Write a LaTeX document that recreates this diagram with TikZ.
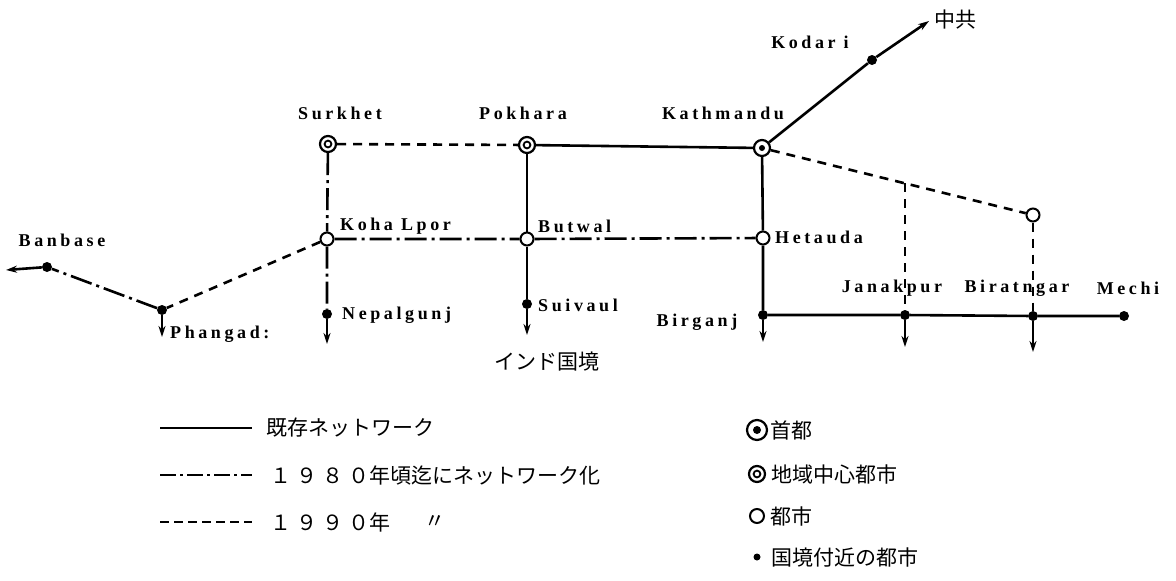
\documentclass[tikz,border=0pt]{standalone}
\usepackage{fontspec}
\setmainfont{Liberation Serif}
\newfontfamily\lab[LetterSpace=20]{Liberation Serif}
\newfontfamily\jp{Noto Sans CJK JP}
\usetikzlibrary{arrows.meta,calc,backgrounds}
\begin{document}
\begin{tikzpicture}[x=1pt,y=-1pt,
  exist/.style={line width=2.6pt},
  pl80/.style={line width=2.6pt,dash pattern=on 22pt off 5pt on 3pt off 5pt},
  pl90/.style={line width=2.6pt,dash pattern=on 9pt off 7pt},
  arr/.style={line width=2.6pt,-{Stealth[length=11pt,width=7pt]}},
  capital/.style={circle,draw,fill=white,line width=2.2pt,minimum size=16pt,inner sep=0pt,path picture={\fill[black] (path picture bounding box.center) circle (3pt);}},
  regional/.style={circle,draw,fill=white,line width=2.2pt,minimum size=16pt,inner sep=0pt,path picture={\draw[black,line width=1.8pt] (path picture bounding box.center) circle (3.4pt);}},
  city/.style={circle,draw,fill=white,line width=2pt,minimum size=13pt,inner sep=0pt},
  bcity/.style={circle,fill,minimum size=10pt,inner sep=0pt},
  lbl/.style={font=\lab\bfseries\fontsize{18}{20}\selectfont,inner sep=0pt},
  jlbl/.style={font=\jp\fontsize{21}{23}\selectfont,inner sep=0pt},
]
\useasboundingbox (0,0) rectangle (1176,581);
% places
\node[regional] (Sur) at (328,144) {};
\node[regional] (Pok) at (527,145) {};
\node[capital]  (Kat) at (762,148) {};
\node[bcity]    (Kod) at (872,60) {};
\coordinate (Chn) at (929,21);
\node[city] (KL)  at (327,239) {};
\node[city] (But) at (527,239) {};
\node[city] (Het) at (763,238) {};
\node[city] (E)   at (1033,215) {};
\node[bcity] (Ban) at (47,267) {};
\coordinate (BanW) at (6,270);
\node[bcity] (Pha) at (162,310) {};
\node[bcity] (Nep) at (327,314) {};
\node[bcity] (Sui) at (527,304) {};
\node[bcity] (Brg) at (763,315) {};
\node[bcity] (Jan) at (905,315) {};
\node[bcity] (Bir) at (1033,316) {};
\node[bcity] (Mec) at (1124,316) {};
\coordinate (Jtop) at (905,0);
\coordinate (J) at (intersection of Kat--E and Jan--Jtop);
\coordinate (PhaS) at (162,337);
\coordinate (NepS) at (327,344);
\coordinate (SuiS) at (527,335);
\coordinate (BrgS) at (763,342);
\coordinate (JanS) at (905,347);
\coordinate (BirS) at (1033,352);
% labels
\node[lbl] (tSur) at (340,113) {Surkhet};
\node[lbl] (tPok) at (523,113) {Pokhara};
\node[lbl] (tKat) at (723,113) {Kathmandu};
\node[lbl] (tKod) at (810,42) {Kodar i};
\node[jlbl] (tChn) at (955,20) {中共};
\node[lbl,anchor=west] (tKL) at (340,226) {Koha Lpor};
\node[lbl,anchor=west] (tBut) at (538,226) {Butwal};
\node[lbl,anchor=west] (tHet) at (775,237) {Hetauda};
\node[lbl] (tBan) at (62,240) {Banbase};
\node[lbl,anchor=west] (tPha) at (170,334) {Phangad:};
\node[lbl,anchor=west] (tNep) at (342,315) {Nepalgunj};
\node[lbl,anchor=west] (tSui) at (538,305) {Suivaul};
\node[lbl] (tBrg) at (697,322) {Birganj};
\node[lbl] (tJan) at (892,288) {Janakpur};
\node[lbl] (tBir) at (1017,288) {Biratngar};
\node[lbl] (tMec) at (1128,288) {Mechi};
\node[jlbl] (tInd) at (547,362) {インド国境};
% connectors
\begin{scope}[on background layer]
\draw[pl90] (Sur) -- (Pok);
\draw[exist] (Pok) -- (Kat);
\draw[pl90] (Kat) -- (J) -- (E);
\draw[pl90] (J) -- (Jan);
\draw[pl90] (E) -- (Bir);
\draw[pl90] (KL) -- (Pha);
\draw[exist] (Pok) -- (But) -- (Sui);
\draw[exist] (Kat) -- (Het) -- (Brg);
\draw[exist] (Brg) -- (Jan) -- (Bir) -- (Mec);
\draw[exist] (Kat) -- (Kod);
\draw[arr] (Kod) -- (Chn);
\draw[pl80] (Sur) -- (KL) -- (Nep);
\draw[pl80] (KL) -- (But) -- (Het);
\draw[pl80] (Pha) -- (Ban);
\draw[arr] (Ban) -- (BanW);
\draw[arr] (Pha) -- (PhaS);
\draw[arr] (Nep) -- (NepS);
\draw[arr] (Sui) -- (SuiS);
\draw[arr] (Brg) -- (BrgS);
\draw[arr] (Jan) -- (JanS);
\draw[arr] (Bir) -- (BirS);
\end{scope}
% legend
\coordinate (La1) at (160,428); \coordinate (Lb1) at (252,428);
\coordinate (La2) at (160,475); \coordinate (Lb2) at (252,475);
\coordinate (La3) at (160,522); \coordinate (Lb3) at (252,522);
\draw[exist] (La1) -- (Lb1);
\draw[line width=2.6pt,dash pattern=on 16pt off 4pt on 3pt off 4pt] (La2) -- (Lb2);
\draw[line width=2.6pt,dash pattern=on 9pt off 5pt] (La3) -- (Lb3);
\node[jlbl,anchor=west] (g1) at (266,428) {既存ネットワーク};
\node[jlbl,anchor=west] (g2) at (270,475) {１\hspace{5pt}９\hspace{5pt}８\hspace{5pt}０年頃迄にネットワーク化};
\node[jlbl,anchor=west] (g3) at (270,522) {１\hspace{5pt}９\hspace{5pt}９\hspace{5pt}０年};
\node[jlbl] (g3b) at (435,522) {〃};
\node[capital,minimum size=20pt,path picture={\fill[black] (path picture bounding box.center) circle (4pt);}] (s1) at (757,430) {};
\node[regional] (s2) at (757,474) {};
\node[city,minimum size=14pt] (s3) at (757,516) {};
\node[bcity,minimum size=7pt] (s4) at (757,557) {};
\node[jlbl,anchor=west] (h1) at (770,430) {首都};
\node[jlbl,anchor=west] (h2) at (771,474) {地域中心都市};
\node[jlbl,anchor=west] (h3) at (770,516) {都市};
\node[jlbl,anchor=west] (h4) at (771,557) {国境付近の都市};
\end{tikzpicture}
\end{document}
